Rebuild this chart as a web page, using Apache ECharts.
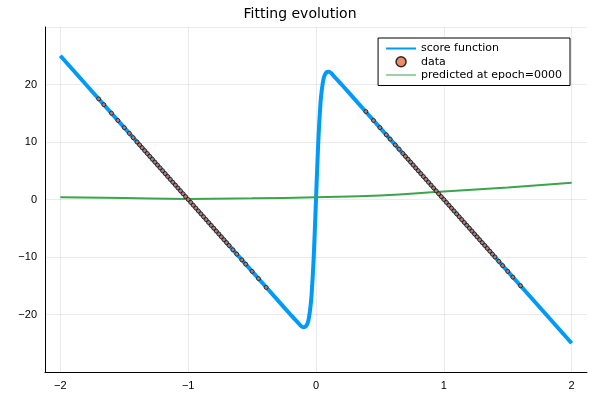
<!DOCTYPE html>
<html><head><meta charset="utf-8">
<script src="https://cdn.jsdelivr.net/npm/echarts@6/dist/echarts.min.js"></script>
<style>html,body{margin:0;padding:0;background:#fff}#c{width:600px;height:400px}</style>
</head><body><div id="c"></div>
<script>
const scoreLine = [
  [-2, 25], [-1.5, 12.5], [-1, 0], [-0.5, -12.5], [-0.3, -17.5], [-0.2, -20], [-0.15, -21.2],
  [-0.1, -22.2], [-0.08, -22.1], [-0.06, -21.1], [-0.04, -18], [-0.03, -15], [-0.02, -11], [-0.01, -5.8],
  [0, 0], [0.01, 5.8], [0.02, 11], [0.03, 15], [0.04, 18], [0.06, 21.1], [0.08, 22.1], [0.1, 22.2],
  [0.15, 21.2], [0.2, 20], [0.3, 17.5], [0.5, 12.5], [1, 0], [1.5, -12.5], [2, -25]
];
const dataLeft = [
  [-1.7, 17.5], [-1.66, 16.5], [-1.6, 15], [-1.55, 13.75], [-1.5, 12.5], [-1.46, 11.5], [-1.43, 10.75],
  [-1.4, 10], [-1.38, 9.5], [-1.36, 9], [-1.34, 8.5], [-1.32, 8], [-1.3, 7.5], [-1.28, 7], [-1.26, 6.5],
  [-1.24, 6], [-1.22, 5.5], [-1.2, 5], [-1.18, 4.5], [-1.16, 4], [-1.14, 3.5], [-1.12, 3], [-1.1, 2.5],
  [-1.08, 2], [-1.06, 1.5], [-1.04, 1], [-1.02, 0.5], [-1, 0], [-0.98, -0.5], [-0.96, -1], [-0.94, -1.5],
  [-0.92, -2], [-0.9, -2.5], [-0.88, -3], [-0.86, -3.5], [-0.84, -4], [-0.82, -4.5], [-0.8, -5],
  [-0.78, -5.5], [-0.76, -6], [-0.74, -6.5], [-0.72, -7], [-0.7, -7.5], [-0.68, -8], [-0.65, -8.75],
  [-0.62, -9.5], [-0.58, -10.5], [-0.55, -11.25], [-0.5, -12.5], [-0.45, -13.75], [-0.39, -15.3]
];
const dataRight = [
  [0.39, 15.3], [0.45, 13.75], [0.5, 12.5], [0.55, 11.25], [0.58, 10.5], [0.62, 9.5], [0.65, 8.75],
  [0.68, 8], [0.7, 7.5], [0.72, 7], [0.74, 6.5], [0.76, 6], [0.78, 5.5], [0.8, 5], [0.82, 4.5], [0.84, 4],
  [0.86, 3.5], [0.88, 3], [0.9, 2.5], [0.92, 2], [0.94, 1.5], [0.96, 1], [0.98, 0.5], [1, 0], [1.02, -0.5],
  [1.04, -1], [1.06, -1.5], [1.08, -2], [1.1, -2.5], [1.12, -3], [1.14, -3.5], [1.16, -4], [1.18, -4.5],
  [1.2, -5], [1.22, -5.5], [1.24, -6], [1.26, -6.5], [1.28, -7], [1.3, -7.5], [1.32, -8], [1.34, -8.5],
  [1.36, -9], [1.38, -9.5], [1.4, -10], [1.43, -10.75], [1.46, -11.5], [1.5, -12.5], [1.54, -13.5], [1.6, -15]
];
const predicted = [
  [-2, 0.4], [-1.5, 0.25], [-1, 0.1], [-0.5, 0.2], [0, 0.4], [0.5, 0.7], [1, 1.4], [1.5, 2.1], [2, 2.9]
];
const xTicks = [-2, -1, 0, 1, 2];

const chart = echarts.init(document.getElementById('c'));
const gridLine = { show: true, lineStyle: { color: '#000', opacity: 0.08 } };
const fmt = v => v < 0 ? '\u2212' + (-v) : '' + v;
chart.setOption({
  animation: false,
  title: { text: 'Fitting evolution', left: 'center', top: 2, textStyle: { fontSize: 14, fontWeight: 'normal', color: '#000', fontFamily: 'DejaVu Sans' } },
  grid: { left: 45, right: 13, top: 27, bottom: 28 },
  legend: {
    orient: 'vertical', right: 30, top: 38, itemGap: 2, itemWidth: 30, itemHeight: 10,
    borderColor: '#000', borderWidth: 1, padding: [5, 8], backgroundColor: '#fff',
    textStyle: { fontSize: 11, color: '#000', fontFamily: 'DejaVu Sans' },
    data: [
      { name: 'score function', icon: 'path://M0,4 L30,4 L30,6 L0,6 Z' },
      { name: 'data', icon: 'circle', itemStyle: { borderWidth: 1.5 } },
      { name: 'predicted at epoch=0000', icon: 'path://M0,4.5 L30,4.5 L30,5.5 L0,5.5 Z' }
    ]
  },
  xAxis: {
    type: 'value', min: -2.12, max: 2.12,
    axisLine: { onZero: false, lineStyle: { color: '#000' } },
    axisTick: { show: false, customValues: xTicks },
    splitLine: gridLine,
    axisLabel: { color: '#000', fontSize: 11, customValues: xTicks, hideOverlap: false, formatter: fmt }
  },
  yAxis: {
    type: 'value', min: -30, max: 30, interval: 10,
    axisLine: { show: true, onZero: false, lineStyle: { color: '#000' } }, axisTick: { show: false },
    splitLine: gridLine,
    axisLabel: { color: '#000', fontSize: 11, formatter: v => Math.abs(v) === 30 ? '' : fmt(v) }
  },
  series: [
    { name: 'score function', type: 'line', z: 2, data: scoreLine, smooth: 0.3, showSymbol: false, lineStyle: { width: 4, color: '#009af9' }, itemStyle: { color: '#009af9' } },
    { name: 'data', type: 'scatter', z: 5, data: dataLeft, symbolSize: 4, itemStyle: { color: '#e26f46', borderColor: '#000', borderWidth: 0.8 } },
    { name: 'data', type: 'scatter', z: 5, data: dataRight, symbolSize: 4, itemStyle: { color: '#e26f46', borderColor: '#000', borderWidth: 0.8 } },
    { name: 'predicted at epoch=0000', type: 'line', z: 3, data: predicted, smooth: true, showSymbol: false, lineStyle: { width: 2, color: '#3da44d' }, itemStyle: { color: '#3da44d' } }
  ]
});
</script></body></html>
